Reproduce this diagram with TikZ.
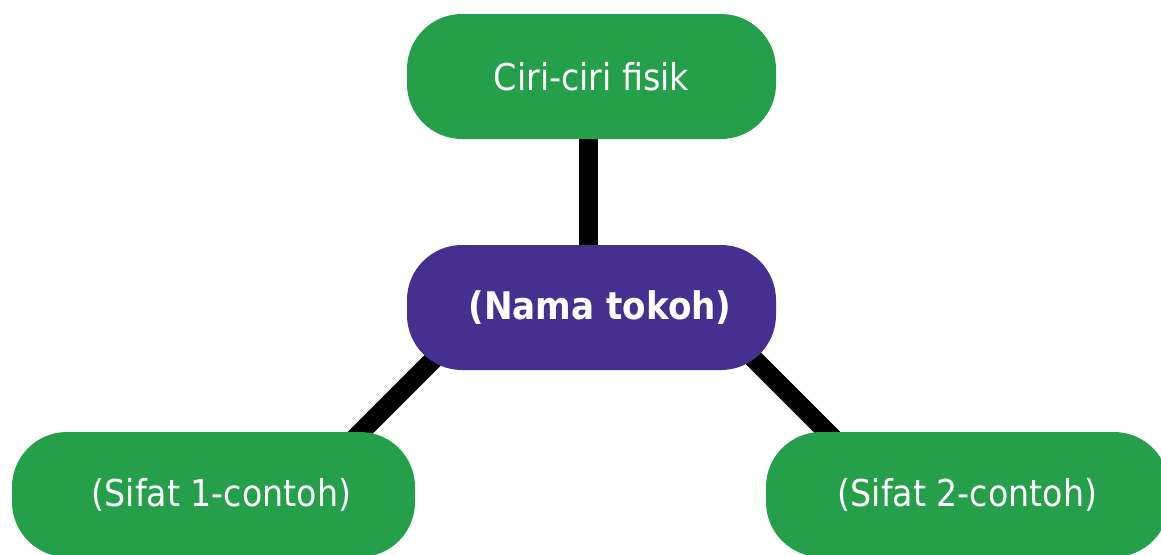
\documentclass[tikz,border=0pt]{standalone}
\usepackage{fontspec}
\setmainfont{DejaVu Sans Condensed}
\usetikzlibrary{backgrounds}
\definecolor{boxgreen}{RGB}{37,159,74}
\definecolor{boxpurple}{RGB}{69,48,143}
\begin{document}
\begin{tikzpicture}[x=1pt,y=-1pt,
  topic/.style={rectangle, rounded corners=55pt, fill=boxgreen, text=white, inner sep=0pt,
    minimum height=125pt, font=\fontsize{37}{44}\selectfont},
  hub/.style={topic, fill=boxpurple, font=\fontsize{38}{44}\selectfont\bfseries},
  link/.style={line width=19pt, black}]
\useasboundingbox (0,0) rectangle (1161,554);
\clip (0,0) rectangle (1161,554);
\node[topic, minimum width=369pt] (fisik) at (591.5,76.5) {Ciri-ciri fisik};
\node[hub, minimum width=369pt] (nama) at (591.5,307.5) {\hspace*{17pt}(Nama tokoh)};
\node[topic, minimum width=403pt] (s1) at (213.5,494.5) {\hspace*{16pt}(Sifat 1-contoh)};
\node[topic, minimum width=403pt] (s2) at (967.5,494.5) {(Sifat 2-contoh)};
\coordinate (l1) at (443,350);
\coordinate (l2) at (353,440);
\coordinate (r1) at (745,350);
\coordinate (r2) at (835,440);
\begin{scope}[on background layer]
\draw[link] ([xshift=-3pt]fisik.south) -- ([xshift=-3pt]nama.north);
\draw[link] (l1) -- (l2);
\draw[link] (r1) -- (r2);
\end{scope}
\end{tikzpicture}
\end{document}
